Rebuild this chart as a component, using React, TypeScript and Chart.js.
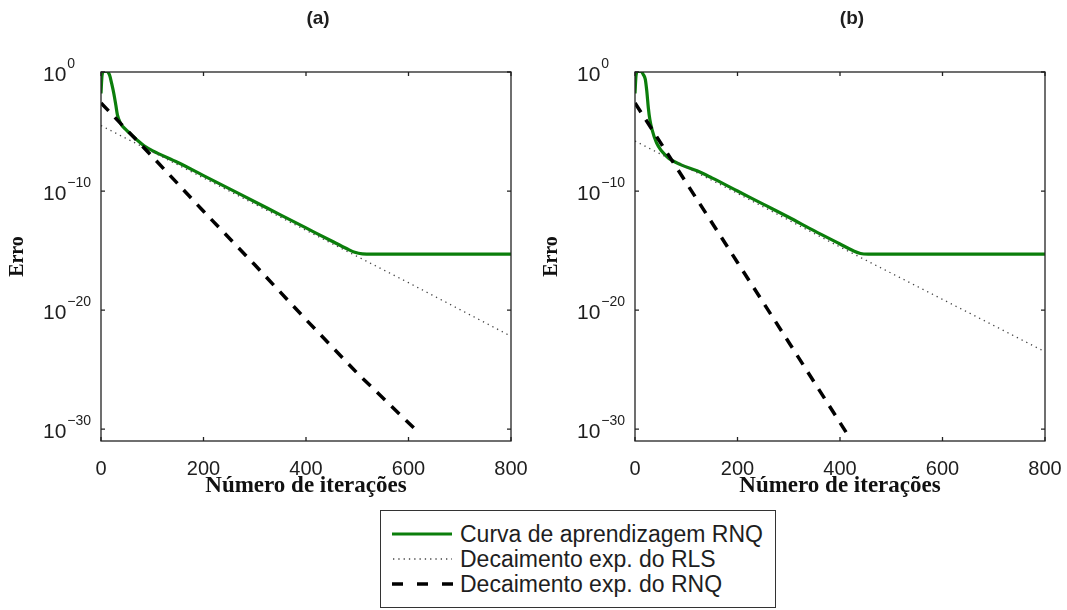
import { useEffect, useRef } from 'react';
import { Chart, registerables } from 'chart.js';

Chart.register(...registerables);

// ---- axes ----
const xTickValues = [0, 200, 400, 600, 800];
const yTickExponents = [0, -10, -20, -30];
const panelTitles = ['(a)', '(b)'];
const legendLabels = ['Curva de aprendizagem RNQ', 'Decaimento exp. do RLS', 'Decaimento exp. do RNQ'];

// ---- panel (a) : values are log10(erro) ----
const learnIterA = [0, 2, 5, 12, 17, 21, 25, 29, 32, 38, 50, 60, 70, 84, 100, 150, 200, 250, 300, 350, 400, 450, 480, 495, 510, 530, 800];
const learnLogA = [-1.8, -0.3, 0.05, 0.05, -0.3, -1.0, -1.8, -2.8, -3.6, -4.3, -4.9, -5.3, -5.7, -6.2, -6.6, -7.6, -8.7, -9.8, -10.9, -12.0, -13.1, -14.2, -14.85, -15.15, -15.28, -15.3, -15.3];
const rlsIterA = [0, 200, 400, 600, 800];
const rlsLogA = [-4.5, -8.9, -13.3, -17.7, -22.2];
const rnqIterA = [0, 100, 200, 300, 400, 500, 620];
const rnqLogA = [-2.6, -7.1, -11.7, -16.2, -20.8, -25.3, -30.3];

// ---- panel (b) ----
const learnIterB = [0, 2, 5, 12, 16, 20, 23, 26, 29, 33, 42, 62, 90, 121, 150, 200, 250, 300, 350, 400, 425, 440, 455, 800];
const learnLogB = [-1.8, -0.3, 0.05, 0.05, -0.2, -0.6, -1.6, -3.0, -4.0, -4.8, -5.95, -7.1, -7.8, -8.3, -8.9, -10.0, -11.1, -12.2, -13.35, -14.45, -15.0, -15.25, -15.3, -15.3];
const rlsIterB = [0, 200, 400, 600, 800];
const rlsLogB = [-5.8, -10.2, -14.7, -19.1, -23.5];
const rnqIterB = [0, 100, 200, 300, 414];
const rnqLogB = [-2.6, -9.3, -16.0, -22.7, -30.4];

const GREEN = '#0b7e0b';
const TEXT = '#1e1e1e';
const SANS = '"Liberation Sans", Arial, Helvetica, sans-serif';
const SERIF = '"Liberation Serif", "Times New Roman", serif';

const toPoints = (xs: number[], logs: number[]) => xs.map((x, i) => ({ x, y: Math.pow(10, logs[i]) }));

const framePlugin = {
  id: 'frame',
  afterDraw(chart: any, _args: any, opts: any) {
    const { ctx, chartArea } = chart;
    const { left, right, top, bottom } = chartArea;
    const xs = chart.scales.x;
    const ys = chart.scales.y;
    ctx.save();
    ctx.strokeStyle = '#222';
    ctx.lineWidth = 1.3;
    ctx.strokeRect(left, top, right - left, bottom - top);
    ctx.beginPath();
    for (const v of xTickValues) {
      const px = xs.getPixelForValue(v);
      ctx.moveTo(px, bottom);
      ctx.lineTo(px, bottom - 4);
      ctx.moveTo(px, top);
      ctx.lineTo(px, top + 4);
    }
    for (const e of yTickExponents) {
      const py = ys.getPixelForValue(Math.pow(10, e));
      ctx.moveTo(left, py);
      ctx.lineTo(left + 4, py);
      ctx.moveTo(right, py);
      ctx.lineTo(right - 4, py);
    }
    ctx.stroke();

    ctx.fillStyle = TEXT;
    ctx.textAlign = 'left';
    ctx.textBaseline = 'alphabetic';
    for (const e of yTickExponents) {
      const py = ys.getPixelForValue(Math.pow(10, e));
      const x0 = left - 58;
      ctx.font = `21px ${SANS}`;
      ctx.fillText('10', x0, py + 8.5);
      const w = ctx.measureText('10').width;
      ctx.font = `14px ${SANS}`;
      ctx.fillText(e === 0 ? '0' : '\u2212' + String(-e), x0 + w + 1, py - 4.5);
    }

    ctx.font = `bold 19px ${SANS}`;
    ctx.textAlign = 'center';
    ctx.textBaseline = 'middle';
    ctx.fillText(opts.title, (left + right) / 2 + 12, 19);
    ctx.restore();
  },
};

function makeConfig(idx: number, padRight: number) {
  const learn = idx === 0 ? toPoints(learnIterA, learnLogA) : toPoints(learnIterB, learnLogB);
  const rls = idx === 0 ? toPoints(rlsIterA, rlsLogA) : toPoints(rlsIterB, rlsLogB);
  const rnq = idx === 0 ? toPoints(rnqIterA, rnqLogA) : toPoints(rnqIterB, rnqLogB);
  return {
    type: 'line',
    data: {
      datasets: [
        {
          label: legendLabels[0],
          data: learn,
          borderColor: GREEN,
          borderWidth: 3.2,
          pointRadius: 0,
          cubicInterpolationMode: 'monotone',
          order: 3,
        },
        {
          label: legendLabels[1],
          data: rls,
          borderColor: '#444',
          borderWidth: 1.3,
          borderDash: [1.3, 4],
          pointRadius: 0,
          order: 2,
        },
        {
          label: legendLabels[2],
          data: rnq,
          borderColor: '#000',
          borderWidth: 3.5,
          borderDash: [11, 9],
          pointRadius: 0,
          order: 1,
        },
      ],
    },
    options: {
      animation: false,
      responsive: false,
      events: [],
      layout: { autoPadding: false, padding: { top: 72, right: padRight, left: 0, bottom: 0 } },
      plugins: {
        legend: { display: false },
        tooltip: { enabled: false },
        frame: { title: panelTitles[idx] },
      },
      scales: {
        x: {
          type: 'linear',
          min: 0,
          max: 800,
          afterBuildTicks: (s: any) => {
            s.ticks = xTickValues.map((v) => ({ value: v }));
          },
          ticks: {
            color: TEXT,
            font: { family: SANS, size: 20 },
            padding: 0,
            maxRotation: 0,
            autoSkip: false,
          },
          grid: { display: false, drawTicks: true, tickLength: 16 },
          border: { display: false },
          title: {
            display: true,
            text: 'Número de iterações',
            color: '#111',
            font: { family: SERIF, size: 23, weight: 'bold' },
            padding: { top: 0, bottom: 0 },
          },
          afterFit: (s: any) => {
            s.height = 59;
          },
        },
        y: {
          type: 'logarithmic',
          min: 1e-31,
          max: 1,
          afterBuildTicks: (s: any) => {
            s.ticks = yTickExponents.map((e) => ({ value: Math.pow(10, e) }));
          },
          ticks: { display: false },
          grid: { display: false, drawTicks: false },
          border: { display: false },
          title: {
            display: true,
            text: 'Erro',
            color: '#111',
            font: { family: SERIF, size: 20, weight: 'bold' },
            padding: { top: 6, bottom: 0 },
          },
          afterFit: (s: any) => {
            s.width = 101;
          },
        },
      },
    },
    plugins: [framePlugin],
  };
}

function Panel({ idx, left, width, padRight }: { idx: number; left: number; width: number; padRight: number }) {
  const ref = useRef<HTMLCanvasElement | null>(null);
  useEffect(() => {
    if (!ref.current) return;
    const chart = new Chart(ref.current, makeConfig(idx, padRight) as any);
    return () => chart.destroy();
  }, [idx, padRight]);
  return (
    <canvas
      ref={ref}
      width={width}
      height={500}
      style={{ position: 'absolute', left, top: 0, width, height: 500 }}
    />
  );
}

function LegendSample({ kind }: { kind: number }) {
  return (
    <svg width={62} height={12} style={{ display: 'block', flex: '0 0 auto' }}>
      {kind === 0 && <line x1={0} y1={6} x2={60} y2={6} stroke={GREEN} strokeWidth={3.2} />}
      {kind === 1 && <line x1={1} y1={6} x2={60} y2={6} stroke="#444" strokeWidth={1.3} strokeDasharray="1.3 4" />}
      {kind === 2 && <line x1={0} y1={6} x2={61} y2={6} stroke="#000" strokeWidth={3.5} strokeDasharray="11 14" />}
    </svg>
  );
}

export default function App() {
  useEffect(() => {
    document.body.style.margin = '0';
  }, []);
  const rowCenters = [533, 558, 583];
  return (
    <div style={{ position: 'fixed', left: 0, top: 0, width: 1067, height: 610, background: '#fff', overflow: 'hidden' }}>
      <Panel idx={0} left={0} width={534} padRight={23} />
      <Panel idx={1} left={534} width={533} padRight={22} />
      <div
        style={{
          position: 'absolute',
          left: 380,
          top: 510,
          width: 396,
          height: 98,
          border: '1px solid #333',
          boxSizing: 'border-box',
          background: '#fff',
          fontFamily: SANS,
          fontSize: 23,
          color: TEXT,
        }}
      >
        {legendLabels.map((lab, i) => (
          <div
            key={lab}
            style={{
              position: 'absolute',
              left: 11,
              top: rowCenters[i] - 510 - 13,
              height: 26,
              display: 'flex',
              alignItems: 'center',
              whiteSpace: 'nowrap',
              lineHeight: '26px',
            }}
          >
            <LegendSample kind={i} />
            <span style={{ marginLeft: 6 }}>{lab}</span>
          </div>
        ))}
      </div>
    </div>
  );
}
